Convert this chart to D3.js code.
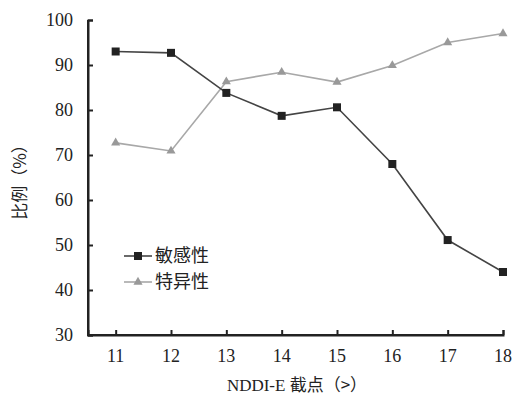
<!DOCTYPE html>
<html><head><meta charset="utf-8">
<script src="https://cdn.jsdelivr.net/npm/d3@7"></script>
<style>body{margin:0;background:#fff}svg{display:block}</style>
</head><body>
<script>
const cutoffs = [11, 12, 13, 14, 15, 16, 17, 18];
const sensitivity = [93.0, 92.7, 83.8, 78.7, 80.6, 68.0, 51.1, 44.0];
const specificity = [72.7, 70.9, 86.3, 88.4, 86.2, 89.9, 95.0, 97.0];
const yTicks = [30, 40, 50, 60, 70, 80, 90, 100];
const seriesNames = ["敏感性", "特异性"];

const W = 514, H = 398;
const svg = d3.select("body").append("svg").attr("width", W).attr("height", H);
const x = d3.scaleLinear().domain([10.5, 18]).range([88, 503]);
const y = d3.scaleLinear().domain([30, 100]).range([335, 20]);
const serif = "'Liberation Serif','DejaVu Serif',serif";
const cjk = "'Noto Sans CJK SC','Liberation Serif',serif";

// axes
const yAxis = svg.append("g").attr("transform", "translate(88,0)")
  .call(d3.axisRight(y).tickValues(yTicks).tickSize(5).tickFormat(""));
const xAxis = svg.append("g").attr("transform", "translate(0,335)")
  .call(d3.axisTop(x).tickValues(cutoffs).tickSize(5).tickFormat(""));
[yAxis, xAxis].forEach(g => {
  g.select(".domain").attr("stroke", "#222").attr("stroke-width", 2);
  g.selectAll(".tick line").attr("stroke", "#222").attr("stroke-width", 2);
});
// extend x axis line to the y axis & right end
svg.append("line").attr("x1", 88).attr("x2", 503).attr("y1", 335).attr("y2", 335)
  .attr("stroke", "#222").attr("stroke-width", 2);
svg.append("line").attr("x1", 88).attr("x2", 88).attr("y1", 20).attr("y2", 336)
  .attr("stroke", "#222").attr("stroke-width", 2);

svg.append("g").selectAll("text").data(yTicks).join("text")
  .attr("x", 73).attr("y", d => y(d)).attr("dy", "0.35em")
  .attr("text-anchor", "end").attr("font-family", serif).attr("font-size", 18)
  .attr("fill", "#222").text(d => d);
svg.append("g").selectAll("text").data(cutoffs).join("text")
  .attr("x", d => x(d)).attr("y", 362)
  .attr("text-anchor", "middle").attr("font-family", serif).attr("font-size", 18)
  .attr("fill", "#222").text(d => d);

// titles
svg.append("text").attr("x", 297).attr("y", 391).attr("text-anchor", "middle")
  .attr("font-size", 17).attr("fill", "#222")
  .html(`<tspan font-family="${serif}">NDDI-E </tspan><tspan font-family="${cjk}">截点（&gt;）</tspan>`);
svg.append("text").attr("transform", "translate(26,178) rotate(-90)")
  .attr("text-anchor", "middle").attr("font-family", cjk).attr("font-size", 17)
  .attr("fill", "#222").text("比例（%）");

// lines
const line = d3.line().x((d, i) => x(cutoffs[i])).y(d => y(d));
svg.append("path").datum(specificity).attr("d", line).attr("fill", "none")
  .attr("stroke", "#a8a8a8").attr("stroke-width", 1.6);
svg.append("path").datum(sensitivity).attr("d", line).attr("fill", "none")
  .attr("stroke", "#444").attr("stroke-width", 1.6);

const tri = d3.symbol().type(d3.symbolTriangle).size(36);
svg.append("g").selectAll("path").data(specificity).join("path")
  .attr("transform", (d, i) => `translate(${x(cutoffs[i])},${y(d)})`)
  .attr("d", tri).attr("fill", "#999");
svg.append("g").selectAll("rect").data(sensitivity).join("rect")
  .attr("x", (d, i) => x(cutoffs[i]) - 4).attr("y", d => y(d) - 4)
  .attr("width", 8).attr("height", 8).attr("fill", "#222");

// legend
const leg = [{name: seriesNames[0], c: "#444", m: "sq"}, {name: seriesNames[1], c: "#a8a8a8", m: "tri"}];
leg.forEach((l, i) => {
  const ly = 256 + i * 26;
  svg.append("line").attr("x1", 124).attr("x2", 152).attr("y1", ly).attr("y2", ly)
    .attr("stroke", l.c).attr("stroke-width", 1.6);
  if (l.m === "sq") svg.append("rect").attr("x", 134).attr("y", ly - 4).attr("width", 8).attr("height", 8).attr("fill", "#222");
  else svg.append("path").attr("transform", `translate(138,${ly})`).attr("d", tri).attr("fill", "#999");
  svg.append("text").attr("x", 155).attr("y", ly).attr("dy", "0.36em")
    .attr("font-family", cjk).attr("font-size", 18).attr("fill", "#222").text(l.name);
});
</script>
</body></html>
